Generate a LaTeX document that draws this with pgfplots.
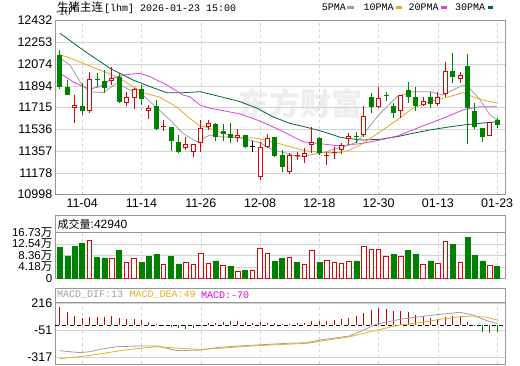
\documentclass[border=0pt]{standalone}
\usepackage{pgfplots}
\pgfplotsset{compat=1.18}
\usepackage{pgfplotstable}
\usepackage{fontspec}
\setmainfont{Liberation Sans}
\newfontfamily\cjk{Noto Sans CJK SC}
\newfontfamily\mono{Liberation Mono}
\newcommand\fs[1]{\fontsize{#1}{#1}\selectfont}
\definecolor{kred}{RGB}{230,0,0}
\definecolor{kgreen}{RGB}{0,128,0}
\definecolor{ma5}{RGB}{160,160,160}
\definecolor{ma10}{RGB}{232,168,32}
\definecolor{ma20}{RGB}{224,64,224}
\definecolor{ma30}{RGB}{0,100,60}
\definecolor{gridc}{RGB}{212,212,212}
\definecolor{framec}{RGB}{150,150,150}
\definecolor{hred}{RGB}{200,0,0}
\definecolor{wm}{RGB}{238,238,238}
\definecolor{dea}{RGB}{232,176,32}
\definecolor{macdm}{RGB}{224,0,224}

% candles: index open high low close
\pgfplotstableread{
i o h l c
3 11709 11818 11587 11736
5 11689 12010 11667 11948
8 11936 12051 11900 11956
10 11750 11845 11727 11799
11 11791 11873 11700 11865
13 11689 11736 11618 11709
15 11552 11612 11524 11562
18 11379 11475 11365 11414
19 11351 11414 11305 11414
20 11420 11612 11351 11544
21 11552 11612 11530 11585
25 11461 11535 11433 11489
28 11145 11433 11118 11392
29 11392 11494 11379 11461
32 11186 11343 11167 11324
33 11318 11351 11282 11326
34 11305 11379 11260 11343
35 11406 11557 11338 11433
37 11318 11351 11241 11326
38 11343 11392 11288 11351
39 11365 11420 11332 11406
40 11453 11507 11406 11480
42 11489 11727 11475 11645
44 11717 11886 11709 11791
47 11689 11818 11626 11818
50 11736 11804 11727 11771
52 11744 11845 11727 11799
53 11826 12092 11804 12016
55 11947 12010 11919 11983
59 11483 11598 11483 11598
}\upc
\pgfplotstableread{
i o h l c
1 12148 12189 11868 11887
2 11887 11942 11818 11818
4 11727 11915 11653 11689
6 11950 11997 11887 11940
7 11934 12024 11837 11873
9 11964 11997 11755 11763
12 11865 11900 11736 11783
14 11727 11777 11530 11535
16 11557 11557 11359 11442
17 11428 11489 11343 11346
22 11579 11590 11442 11475
23 11522 11579 11442 11497
24 11497 11585 11420 11461
26 11489 11489 11379 11392
30 11470 11470 11310 11315
31 11324 11365 11186 11227
36 11461 11475 11324 11338
41 11478 11516 11420 11470
43 11804 11837 11667 11717
45 11821 11845 11771 11813
46 11727 11750 11626 11667
48 11859 11928 11755 11799
49 11799 11882 11689 11727
51 11799 11845 11709 11744
54 12016 12162 11919 11964
56 12057 12153 11412 11709
57 11689 11750 11535 11557
58 11549 11549 11433 11475
60 11612 11626 11544 11571
}\downc
\pgfplotstableread{
i o h l c
27 11392 11442 11351 11392
}\dojic

% volume in units of 10^4
\pgfplotstableread{
i v
5 13.73
8 7.28
10 5.85
11 7.28
15 5.01
18 5.85
19 5.13
20 9.07
21 5.49
23 4.78
25 2.63
27 2.99
28 10.87
29 8.96
32 7.64
34 5.13
35 10.15
37 6.57
38 5.85
39 5.49
40 6.21
42 11.46
43 10.51
44 10.51
45 8.00
47 8.00
50 5.13
52 5.49
53 13.49
55 5.85
59 4.78
}\volred
\pgfplotstableread{
i v
1 11.34
2 8.12
3 11.70
4 12.78
6 7.64
7 7.40
9 10.27
12 5.85
13 8.00
14 8.72
16 8.00
17 5.13
22 6.33
24 4.42
26 2.75
30 6.33
31 7.28
33 5.85
36 5.85
41 6.33
46 8.72
48 10.15
49 8.72
51 6.33
54 12.30
56 14.81
57 8.48
58 6.33
60 4.29
}\volgreen

% MACD histogram
\pgfplotstableread{
i m
1 180
2 131
3 88
4 66
5 76
6 82
7 82
8 88
9 66
10 56
11 56
12 49
13 32
14 5
21 17
22 23
23 26
24 39
25 39
26 32
27 23
28 32
29 23
30 17
31 10
32 10
33 17
34 23
35 43
36 43
37 43
38 49
39 56
40 72
41 88
42 115
43 147
44 164
45 154
46 141
47 141
48 131
49 98
50 88
51 66
52 59
53 82
54 88
55 76
56 32
}\macdpos
\pgfplotstableread{
i m
15 -3
16 -23
17 -32
18 -42
19 -32
20 -3
57 -5
58 -66
59 -76
60 -72
}\macdneg

\pgfplotsset{panel/.style={
  scale only axis, width=450pt,
  xmin=0.33, xmax=61.05,
  axis line style={framec},
  major tick length=0pt,
  xtick={4,12,20,28,36,44,52,60},
  grid=major,
  x grid style={gridc, dash pattern=on 3pt off 3pt},
  y grid style={gridc},
  tick label style={font=\fs{12.5}},
  yticklabel style={inner sep=0pt, xshift=-2.5pt},
}}

\begin{document}
\begin{tikzpicture}[x=1pt,y=1pt]
\fill[white] (0,0) rectangle (520,365);
\path[use as bounding box] (0,0) rectangle (520,365);
% watermark
\node[text=wm, font=\cjk\bfseries\fs{31}, inner sep=0] at (300,261) {东方财富};

% ===== main price panel =====
\begin{axis}[panel, at={(55pt,170.5pt)}, anchor=south west, height=174pt,
  ymin=10998, ymax=12432,
  ytick={10998,11177.25,11356.5,11535.75,11715,11894.25,12073.5,12252.75,12432},
  yticklabels={10998,11178,11357,11536,11715,11894,12074,12253,12432},
  xticklabels={11-04,11-14,11-26,12-08,12-18,12-30,01-13,01-23},
  xticklabel style={inner sep=0pt, yshift=-4pt}]
% moving averages
\addplot[ma30, line width=0.8pt] coordinates {(1,12327) (4.1,12189) (7.75,12038) (10.85,11942) (13.15,11887) (15.44,11837) (17.6,11837) (19.9,11845) (21.24,11826) (23,11799) (25.3,11763) (27.6,11709) (29.7,11639) (32,11585) (34.3,11552) (36.5,11516) (38.8,11470) (39.7,11461) (41.9,11447) (44.2,11453) (46.5,11475) (48.6,11502) (50.9,11530) (53.2,11552) (55.4,11571) (57.7,11585) (60,11598)};
\addplot[ma20, line width=0.8pt] coordinates {(1,11997) (2.75,11928) (4.1,11887) (5.05,11868) (6.4,11887) (8.15,11956) (9.5,11983) (11.8,11997) (13.15,11969) (15.44,11900) (17.6,11818) (18.5,11804) (19.9,11736) (21.24,11709) (23,11689) (25.3,11662) (27.6,11612) (29.7,11557) (32,11489) (33.8,11433) (36.5,11414) (38.8,11398) (39.7,11406) (41.9,11420) (44.2,11447) (46.5,11480) (48.6,11530) (50.9,11585) (53.2,11639) (55.4,11695) (57.7,11722) (60,11722)};
\addplot[ma10, line width=0.8pt] coordinates {(1,12148) (1.9,12134) (4.1,12079) (6.4,12024) (8.7,11969) (10.85,11887) (12.2,11837) (14.5,11799) (16.8,11717) (18.5,11626) (19.9,11563) (20.8,11552) (23,11502) (25.3,11470) (27.6,11461) (29.7,11433) (32,11392) (34.3,11357) (36.5,11343) (38.8,11343) (40.1,11365) (41.9,11420) (44.2,11516) (46.5,11612) (48.6,11709) (50.9,11763) (53.2,11799) (55.4,11837) (56.7,11804) (58.1,11777) (60,11750)};
\addplot[ma5, line width=0.8pt] coordinates {(1,12123) (2.35,12065) (3.97,11900) (5.05,11845) (6.8,11837) (8.7,11915) (10.45,11859) (12.2,11818) (14.1,11709) (15.85,11612) (17.6,11502) (19.5,11433) (21.24,11489) (22.2,11475) (23.9,11470) (25.7,11461) (28,11425) (29.7,11365) (31.6,11338) (33,11310) (34.7,11324) (36.5,11343) (38.4,11379) (39.7,11398) (41.1,11433) (42.4,11530) (44.2,11667) (46.5,11804) (48.6,11845) (50.9,11845) (52.7,11818) (54,11859) (55.4,11900) (56.3,11873) (57.7,11777) (59.03,11653) (60,11612)};
% down candles (green, filled)
\addplot[kgreen, line width=1pt, -, quiver={u=0, v={\thisrow{h}-\thisrow{l}}}] table[x=i, y=l] {\downc};
\addplot[kgreen, line width=5pt, -, quiver={u=0, v={max(abs(\thisrow{c}-\thisrow{o}),8)}}] table[x=i, y expr={min(\thisrow{o},\thisrow{c})}] {\downc};
% up candles (red, hollow)
\addplot[kred, line width=1pt, -, quiver={u=0, v={\thisrow{h}-\thisrow{l}}}] table[x=i, y=l] {\upc};
\addplot[kred, line width=5pt, -, quiver={u=0, v={max(abs(\thisrow{c}-\thisrow{o}),8)}}] table[x=i, y expr={min(\thisrow{o},\thisrow{c})}] {\upc};
\addplot[white, line width=3pt, -, quiver={u=0, v={max(abs(\thisrow{c}-\thisrow{o})-16.5,0)}}] table[x=i, y expr={min(\thisrow{o},\thisrow{c})+8.24}] {\upc};
% doji
\addplot[black, line width=1pt, -, quiver={u=0, v={\thisrow{h}-\thisrow{l}}}] table[x=i, y=l] {\dojic};
\addplot[black, line width=5pt, -, quiver={u=0, v={8}}] table[x=i, y expr={\thisrow{o}-4}] {\dojic};
\end{axis}

% ===== volume panel =====
\draw[framec] (55,150) rectangle (505,132.7);
\begin{axis}[panel, at={(55pt,86.7pt)}, anchor=south west, height=46pt,
  ymin=0, ymax=16.73,
  ytick={0,4.18,8.36,12.54,16.73},
  yticklabels={0,{4.18{\cjk 万}},{8.36{\cjk 万}},{12.54{\cjk 万}},{16.73{\cjk 万}}},
  yticklabel style={font=\fs{11.5}},
  xticklabels={}]
\addplot[ybar, bar width=5pt, bar shift=0pt, fill=kgreen, draw=kgreen, line width=0.6pt] table[x=i, y=v] {\volgreen};
\addplot[ybar, bar width=4.4pt, bar shift=0pt, fill=white, draw=kred, line width=0.9pt] table[x=i, y=v] {\volred};
\end{axis}
\node[anchor=west, inner sep=0] at (57.5,140.7) {{\cjk\fs{11}成交量}{\fs{12}:42940}};

% ===== MACD panel =====
\draw[framec] (55,76.7) rectangle (505,63);
\begin{axis}[panel, at={(55pt,1pt)}, anchor=south west, height=62pt,
  ymin=-383, ymax=225.9,
  ytick={-317,-51,216},
  yticklabels={-317,-51,216},
  xticklabels={}]
\addplot[black, line width=0.9pt, dash pattern=on 4pt off 3.4pt] coordinates {(0.33,0) (61.05,0)};
\addplot[hred, line width=1pt, -, quiver={u=0, v={\thisrow{m}}}] table[x=i, y expr=0] {\macdpos};
\addplot[kgreen, line width=1pt, -, quiver={u=0, v={\thisrow{m}}}] table[x=i, y expr=0] {\macdneg};
\addplot[ma5, line width=0.8pt] coordinates {(1,-252) (3.7,-272) (5.05,-262) (6.4,-239) (8.7,-213) (11.8,-206) (14.1,-206) (16.8,-252) (19.9,-246) (22.6,-219) (25.3,-206) (27.6,-196) (31.6,-180) (34.3,-174) (36.1,-147) (40.1,-108) (43.8,10) (46.9,56) (49.6,82) (52.3,105) (55,125) (56.7,98) (58.6,42) (60,13)};
\addplot[dea, line width=0.8pt] coordinates {(1,-330) (3.7,-310) (6.4,-285) (9.1,-252) (11.8,-229) (14.1,-213) (17.2,-229) (19.9,-239) (22.6,-229) (25.3,-213) (27.6,-203) (34.3,-180) (40.1,-115) (43.8,-49) (46.9,0) (49.6,23) (52.3,56) (55,82) (56.7,88) (58.6,76) (60,49)};
\end{axis}
\node[anchor=west, inner sep=0, font=\mono\fs{10}, text=ma5] at (57,70) {MACD\_DIF:13};
\node[anchor=west, inner sep=0, font=\mono\fs{10}, text=dea] at (129.3,70) {MACD\_DEA:49};
\node[anchor=west, inner sep=0, font=\mono\fs{10}, text=macdm] at (201,70) {MACD:-70};

% ===== header =====
\node[anchor=west, inner sep=0] at (57,357.3) {{\cjk\fs{11.5}生猪主连}\hspace{1pt}{\mono\fs{10}[lhm] 2026-01-23 15:00}};
\node[anchor=west, inner sep=0, font=\mono\fs{10}] at (321.7,357.3) {5PMA};
\fill[ma5] (347.3,355.8) rectangle (354,358.8);
\node[anchor=west, inner sep=0, font=\mono\fs{10}] at (363.3,357.3) {10PMA};
\fill[ma10] (395.7,355.8) rectangle (401.7,358.8);
\node[anchor=west, inner sep=0, font=\mono\fs{10}] at (408.3,357.3) {20PMA};
\fill[ma20] (441,355.8) rectangle (446.7,358.8);
\node[anchor=west, inner sep=0, font=\mono\fs{10}] at (455,357.3) {30PMA};
\fill[ma30] (487.7,355.8) rectangle (493.3,358.8);
\end{tikzpicture}
\end{document}
